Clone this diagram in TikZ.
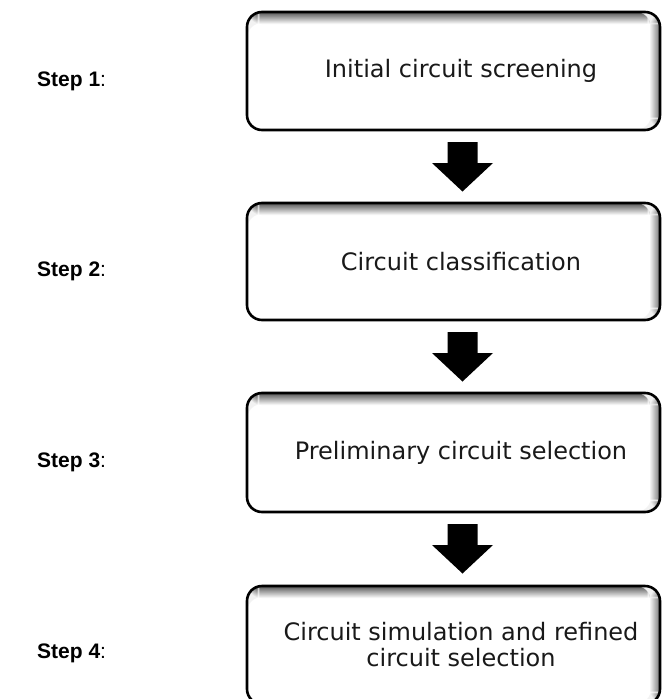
\documentclass[tikz,border=0pt]{standalone}
\usepackage{fontspec}
\setmainfont{DejaVu Sans}
\newfontfamily\arialfont{Liberation Sans}
\begin{document}
\begin{tikzpicture}[x=1pt,y=-1pt,
  procbox/.style={draw=black, line width=2.6pt, rounded corners=15pt, fill=white,
    minimum width=413pt, inner sep=0pt, outer sep=0pt,
    path picture={
      \foreach \i in {0,...,11}{
        \pgfmathtruncatemacro\g{66-5.5*\i}
        \pgfmathtruncatemacro\j{\i+1}
        \fill[black!\g] ([yshift=-\i pt]path picture bounding box.north west)
          rectangle ([yshift=-\j pt]path picture bounding box.north east);
      }
      \foreach \i in {0,...,9}{
        \pgfmathtruncatemacro\g{50-5*\i}
        \pgfmathtruncatemacro\j{\i+1}
        \fill[black!\g] ([xshift=-\i pt]path picture bounding box.north east)
          rectangle ([xshift=-\j pt]path picture bounding box.south east);
      }
    }},
  proctext/.style={font=\fontsize{24}{26}\selectfont, text=black!90, align=center, inner sep=0pt},
  steplabel/.style={font=\arialfont\fontsize{21}{24}\selectfont, anchor=west, inner sep=0pt},
  blockarrow/.pic={\fill[black] (-15,0) -- (15,0) -- (15,21) -- (30.5,21) -- (0,49.5) -- (-30.5,21) -- (-15,21) -- cycle;}
]
\useasboundingbox (0,0) rectangle (663,699);
\fill[white] (0,0) rectangle (663,699);

\node[procbox, minimum height=118pt] (b1) at (453.5,71) {};
\node[procbox, minimum height=117pt] (b2) at (453.5,261.5) {};
\node[procbox, minimum height=119pt] (b3) at (453.5,452.5) {};
\node[procbox, minimum height=118pt] (b4) at (453.5,645) {};

\node[proctext] (t1) at (461,71) {Initial circuit screening};
\node[proctext] (t2) at (461,261.5) {Circuit classification};
\node[proctext] (t3) at (461,452.5) {Preliminary circuit selection};
\node[proctext] (t4) at (461,645) {Circuit simulation and refined\\circuit selection};

\coordinate (a1) at ([yshift=-12pt]b1.south -| 462.5,0);
\coordinate (a2) at ([yshift=-12pt]b2.south -| 462.5,0);
\coordinate (a3) at ([yshift=-12pt]b3.south -| 462.5,0);
\pic at (a1) {blockarrow};
\pic at (a2) {blockarrow};
\pic at (a3) {blockarrow};

\node[steplabel] (s1) at (37,81) {\textbf{Step 1}:};
\node[steplabel] (s2) at (37,271) {\textbf{Step 2}:};
\node[steplabel] (s3) at (37,462) {\textbf{Step 3}:};
\node[steplabel] (s4) at (37,653) {\textbf{Step 4}:};
\end{tikzpicture}
\end{document}
